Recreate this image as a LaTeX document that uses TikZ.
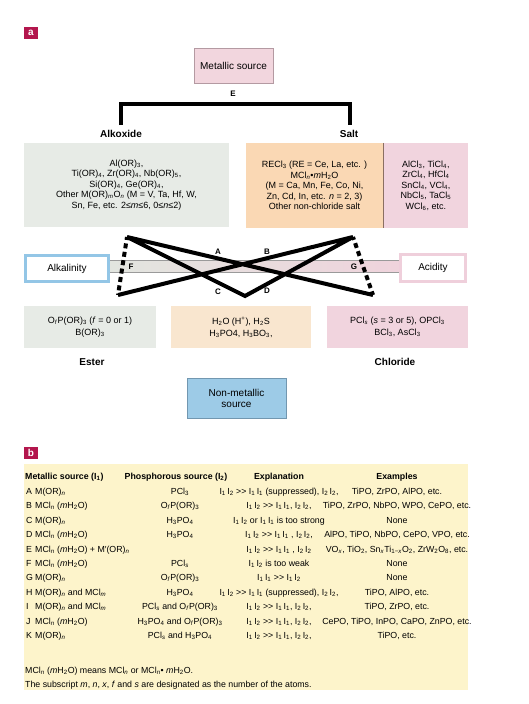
\documentclass[tikz,border=0pt]{standalone}
\usepackage{fontspec}
\setmainfont{Liberation Sans}
\usetikzlibrary{positioning}
\definecolor{panelred}{HTML}{B3164D}
\definecolor{srcpink}{HTML}{F2D6DE}
\definecolor{srcedge}{HTML}{B49AA2}
\definecolor{alkgrey}{HTML}{E7EBE6}
\definecolor{saltorange}{HTML}{FAD8B4}
\definecolor{saltedge}{HTML}{8A6F62}
\definecolor{watorange}{HTML}{F9E6CF}
\definecolor{clpink}{HTML}{F1D4DE}
\definecolor{basblue}{HTML}{93C6E6}
\definecolor{acidpink}{HTML}{EFCFDB}
\definecolor{nmblue}{HTML}{9DCBE7}
\definecolor{nmedge}{HTML}{7297B0}
\definecolor{tabyellow}{HTML}{FDF4CB}
\definecolor{bandgrey}{HTML}{E2E5DF}
\definecolor{bandpink}{HTML}{EFD3DC}
\definecolor{bandedge}{HTML}{9A9A9A}
\newcommand{\sbs}[1]{\textsubscript{#1}}
\newcommand{\sups}[1]{\textsuperscript{#1}}
\newcommand{\ipr}[2]{I\sbs{#1}\,I\sbs{#2}}
\newcommand{\dgt}{>\kern0pt>}
\newcommand{\tabrow}[6]{%
  \node[tabcell,anchor=west](l#1)at(26,#2){#1};
  \node[tabcell,anchor=west](m#1)at(35,#2){#3};
  \node[tabcell](p#1)at(180,#2){#4};
  \node[tabcell](x#1)at(279,#2){#5};
  \node[tabcell](e#1)at(397,#2){#6};}

\begin{document}
\begin{tikzpicture}[x=1pt,y=-1pt,
    panel/.style={fill=panelred,text=white,font=\bfseries\fontsize{10}{10}\selectfont,minimum width=14,minimum height=12,inner sep=0pt},
    boxtext/.style={align=center,inner sep=0pt,font=\fontsize{9}{10.5}\selectfont},
    pairbox/.style={boxtext,font=\fontsize{9}{12}\selectfont},
    srcbox/.style={boxtext,line width=0.8pt,font=\fontsize{10}{11}\selectfont},
    basebox/.style={fill=white,line width=3pt,inner sep=0pt,font=\fontsize{10}{11}\selectfont},
    classlabel/.style={inner sep=0pt,font=\bfseries\fontsize{10}{12}\selectfont},
    tagl/.style={inner sep=0pt,font=\bfseries\fontsize{8}{8}\selectfont},
    heavy/.style={line width=4pt},
    tabcell/.style={inner sep=0pt,font=\fontsize{8.8}{10}\selectfont,text height=6.5pt,text depth=2pt},
    tabhead/.style={tabcell,font=\bfseries\fontsize{8.8}{10}\selectfont}]
\useasboundingbox(0,0)rectangle(529,704);
% panel a
\node[panel](pa)at(31,33){a};
\node[srcbox,fill=srcpink,draw=srcedge,minimum width=79,minimum height=35](metal)at(233.5,65.5){Metallic source};
\node[tagl](E)at(233,94){E};
\coordinate(brL)at(121,125);
\coordinate(brM)at(233,103.5);
\coordinate(brR)at(350,125);
\draw[heavy](brL)|-(brM)-|(brR);
\node[classlabel](alkox)at(121,134){Alkoxide};
\node[classlabel](salt)at(349,134){Salt};
\node[boxtext,fill=alkgrey,minimum width=205,minimum height=84](alkbox)at(126.5,185){Al(OR)\sbs{3},\\Ti(OR)\sbs{4}, Zr(OR)\sbs{4}, Nb(OR)\sbs{5},\\Si(OR)\sbs{4}, Ge(OR)\sbs{4},\\Other M(OR)\sbs{\textit{m}}O\sbs{\textit{n}} (M = V, Ta, Hf, W,\\Sn, Fe, etc. 2≤\textit{m}≤6, 0≤\textit{n}≤2)};
\node[boxtext,fill=saltorange,minimum width=137,minimum height=85](saltbox)at(314.5,185.5){RECl\sbs{3} (RE = Ce, La, etc. )\\MCl\sbs{\textit{n}}•\textit{m}H\sbs{2}O\\(M = Ca, Mn, Fe, Co, Ni,\\Zn, Cd, In, etc. \textit{n} = 2, 3)\\Other non-chloride salt};
\node[boxtext,fill=clpink,minimum width=85,minimum height=85,right=0pt of saltbox](clbox){AlCl\sbs{3}, TiCl\sbs{4},\\ZrCl\sbs{4}, HfCl\sbs{4}\\SnCl\sbs{4}, VCl\sbs{4},\\NbCl\sbs{5}, TaCl\sbs{5}\\WCl\sbs{6}, etc.};
\draw[saltedge,line width=0.8pt](saltbox.north east)--(saltbox.south east);
% acid-base band
\shade[left color=bandgrey,right color=bandpink](110,260)rectangle(399,272);
\draw[bandedge,line width=0.6pt](110,260)--(399,260)(110,272)--(399,272);
\node[basebox,draw=basblue,minimum width=83,minimum height=26](alkal)at(67,268.5){Alkalinity};
\node[basebox,draw=acidpink,minimum width=65,minimum height=27](acid)at(433,268){Acidity};
\coordinate(TL)at(127,237);
\coordinate(TR)at(353,237);
\coordinate(BL)at(118,295);
\coordinate(BR)at(373,295);
\coordinate(V)at(245,296);
\draw[heavy](TL)--(BR)(TR)--(BL)(TL)--(V)--(TR);
\draw[heavy,dash pattern=on 5pt off 3.5pt,dash phase=2pt](TL)--(BL)(TR)--(BR);
\node[tagl](lA)at(218,252){A};
\node[tagl](lB)at(267,252){B};
\node[tagl](lC)at(218,292){C};
\node[tagl](lD)at(267,291){D};
\node[tagl](lF)at(131,267){F};
\node[tagl](lG)at(354,267){G};
\node[pairbox,fill=alkgrey,minimum width=132,minimum height=42](ester)at(90,327){O\sbs{\textit{f}}P(OR)\sbs{3} (\textit{f} = 0 or 1)\\B(OR)\sbs{3}};
\node[pairbox,fill=watorange,minimum width=140,minimum height=42](water)at(241,327){H\sbs{2}O (H\sups{+}), H\sbs{2}S\\H\sbs{3}PO4, H\sbs{3}BO\sbs{3},};
\node[pairbox,fill=clpink,minimum width=141,minimum height=42](chlor)at(397.5,327){PCl\sbs{\textit{s}} (\textit{s} = 3 or 5), OPCl\sbs{3}\\BCl\sbs{3}, AsCl\sbs{3}};
\node[classlabel](esterl)at(92,362){Ester};
\node[classlabel](chlorl)at(395,362){Chloride};
\node[srcbox,fill=nmblue,draw=nmedge,minimum width=99,minimum height=40](nonmet)at(236.5,398){Non-metallic\\source};
% panel b
\node[panel](pb)at(31,453){b};
\fill[tabyellow](24,464)rectangle(468,690);
\node[tabhead,anchor=west](hM)at(25,477){Metallic source (I\sbs{1})};
\node[tabhead](hP)at(176,477){Phosphorous source (I\sbs{2})};
\node[tabhead](hX)at(279,477){Explanation};
\node[tabhead](hE)at(397,477){Examples};
\tabrow{A}{492}{M(OR)\sbs{\textit{n}}}{PCl\sbs{3}}{\ipr12 \dgt{} \ipr11 (suppressed), \ipr22,}{TiPO, ZrPO, AlPO, etc.}
\tabrow{B}{506}{MCl\sbs{\textit{n}} (\textit{m}H\sbs{2}O)}{O\sbs{\textit{f}}P(OR)\sbs{3}}{\ipr12 \dgt{} \ipr11, \ipr22,}{TiPO, ZrPO, NbPO, WPO, CePO, etc.}
\tabrow{C}{521}{M(OR)\sbs{\textit{n}}}{H\sbs{3}PO\sbs{4}}{\ipr12 or \ipr11 is too strong}{None}
\tabrow{D}{535}{MCl\sbs{\textit{n}} (\textit{m}H\sbs{2}O)}{H\sbs{3}PO\sbs{4}}{\ipr12 \dgt{} \ipr11 , \ipr22,}{AlPO, TiPO, NbPO, CePO, VPO, etc.}
\tabrow{E}{550}{MCl\sbs{\textit{n}} (\textit{m}H\sbs{2}O) + M′(OR)\sbs{\textit{n}}}{}{\ipr12 \dgt{} \ipr11 , \ipr22}{VO\sbs{\textit{x}}, TiO\sbs{2}, Sn\sbs{\textit{x}}Ti\sbs{1−\textit{x}}O\sbs{2}, ZrW\sbs{2}O\sbs{8}, etc.}
\tabrow{F}{564}{MCl\sbs{\textit{n}} (\textit{m}H\sbs{2}O)}{PCl\sbs{\textit{s}}}{\ipr12 is too weak}{None}
\tabrow{G}{578}{M(OR)\sbs{\textit{n}}}{O\sbs{\textit{f}}P(OR)\sbs{3}}{\ipr11 \dgt{} \ipr12}{None}
\tabrow{H}{593}{M(OR)\sbs{\textit{n}} and MCl\sbs{\textit{m}}}{H\sbs{3}PO\sbs{4}}{\ipr12 \dgt{} \ipr11 (suppressed), \ipr22,}{TiPO, AlPO, etc.}
\tabrow{I}{607}{M(OR)\sbs{\textit{n}} and MCl\sbs{\textit{m}}}{PCl\sbs{\textit{s}} and O\sbs{\textit{f}}P(OR)\sbs{3}}{\ipr12 \dgt{} \ipr11, \ipr22,}{TiPO, ZrPO, etc.}
\tabrow{J}{622}{MCl\sbs{\textit{n}} (\textit{m}H\sbs{2}O)}{H\sbs{3}PO\sbs{4} and O\sbs{\textit{f}}P(OR)\sbs{3}}{\ipr12 \dgt{} \ipr11, \ipr22,}{CePO, TiPO, InPO, CaPO, ZnPO, etc.}
\tabrow{K}{636}{M(OR)\sbs{\textit{n}}}{PCl\sbs{\textit{s}} and H\sbs{3}PO\sbs{4}}{\ipr12 \dgt{} \ipr11, \ipr22,}{TiPO, etc.}
\node[tabcell,anchor=west](note1)at(25,671){MCl\sbs{\textit{n}} (\textit{m}H\sbs{2}O) means MCl\sbs{\textit{n}} or MCl\sbs{\textit{n}}• \textit{m}H\sbs{2}O.};
\node[tabcell,anchor=west](note2)at(25,685){The subscript \textit{m}, \textit{n}, \textit{x}, \textit{f} and \textit{s} are designated as the number of the atoms.};
\end{tikzpicture}
\end{document}
